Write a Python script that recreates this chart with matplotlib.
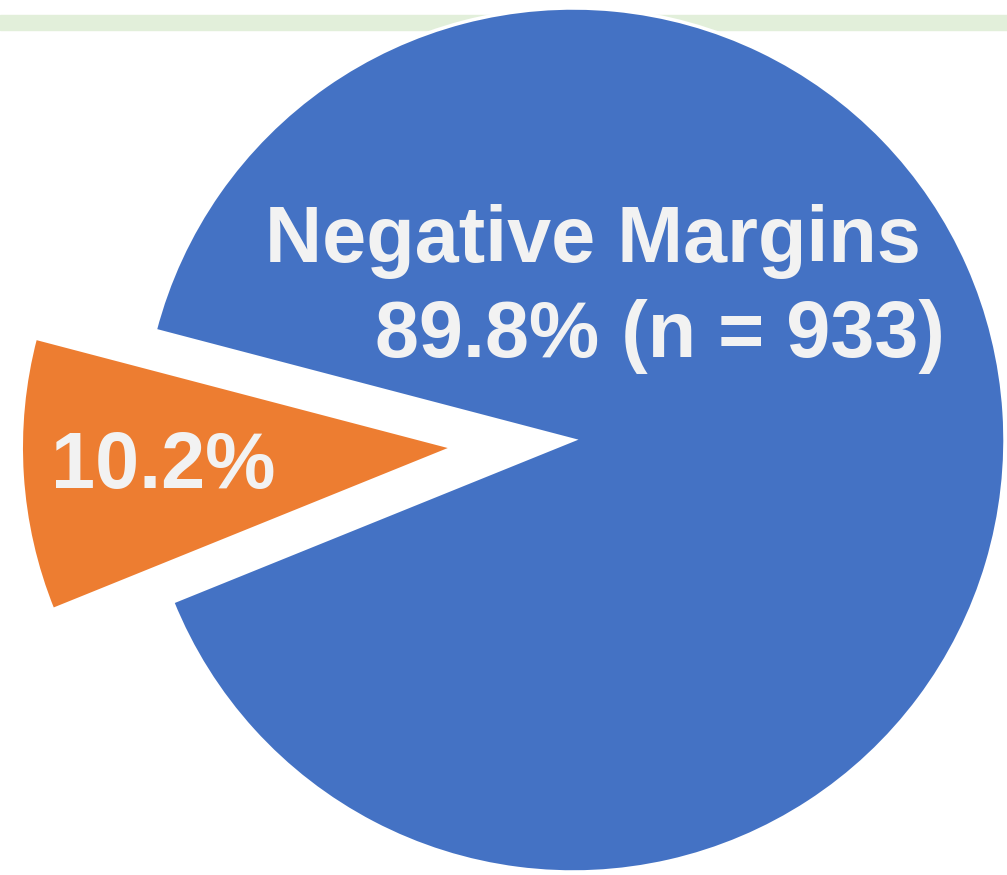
import matplotlib.pyplot as plt

labels = ["Positive Margins", "Negative Margins"]
counts = [106, 933]
colors = ["#ED7D31", "#4472C4"]

total = sum(counts)
pct = [c / total * 100 for c in counts]

plt.rcParams["font.family"] = ["Liberation Sans", "DejaVu Sans"]

fig = plt.figure(figsize=(10.07, 8.75), dpi=100)
ax = fig.add_axes([0, 0, 1, 1])

# light green band across the top
ax.axhspan(845, 860, color="#E2EFDA", zorder=0)

# explode is in data units here (radius is in pixel-like units)
ax.pie(counts, colors=colors, explode=[120, 0], startangle=165.3,
       center=(573, 435), radius=432,
       wedgeprops=dict(edgecolor="white", linewidth=2.5), frame=True)
ax.set_xlim(0, 1007)
ax.set_ylim(0, 875)
ax.set_aspect("equal")
ax.axis("off")

txt = dict(color="#F2F2F2", fontsize=57, fontweight="bold", va="baseline", ha="center", zorder=5)
ax.text(593, 613, labels[1], **txt)
ax.text(660, 518, f"{pct[1]:.1f}% (n = {counts[1]})", **txt)
ax.text(163, 387, f"{pct[0]:.1f}%", **txt)

fig.savefig("out.png", dpi=100)
